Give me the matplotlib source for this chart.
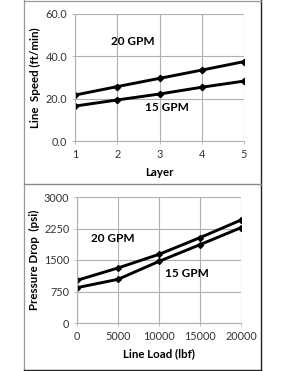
import matplotlib.pyplot as plt
from matplotlib.lines import Line2D

plt.rcParams['font.family'] = ['Lato', 'DejaVu Sans']

# Верхний график: скорость линии по слоям
layers = [1, 2, 3, 4, 5]
speed_20 = [21.7, 25.7, 29.6, 33.5, 37.5]
speed_15 = [16.5, 19.4, 22.2, 25.4, 28.3]

# Нижний график: перепад давления от нагрузки
loads = [0, 5000, 10000, 15000, 20000]
pressure_20 = [1016, 1310, 1635, 2032, 2452]
pressure_15 = [841, 1040, 1468, 1865, 2270]

W, H = 285, 371
fig = plt.figure(figsize=(W / 100, H / 100), dpi=100)

grid_c = '#b0b0b0'
tick_c = '#333333'


def style_axes(ax):
    for side in ['top', 'right']:
        ax.spines[side].set_visible(False)
    for side in ['left', 'bottom']:
        ax.spines[side].set_color(grid_c)
        ax.spines[side].set_linewidth(0.8)
    ax.grid(True, color=grid_c, linewidth=0.8)
    ax.set_axisbelow(True)
    ax.tick_params(axis='both', labelsize=7.8, colors=tick_c, length=2.5,
                   width=0.6, pad=3)
    ax.tick_params(axis='both', color=grid_c)
    ax.set_facecolor('none')


# верхний
ax1 = fig.add_axes([75 / W, 1 - 141 / H, 169 / W, 127 / H])
ax1.plot(layers, speed_20, color='black', lw=2.1, marker='D', ms=3.2)
ax1.plot(layers, speed_15, color='black', lw=2.1, marker='D', ms=3.2)
ax1.set_xlim(1, 5)
ax1.set_ylim(0, 60)
ax1.set_xticks(layers)
ax1.set_yticks([0, 20, 40, 60])
ax1.set_yticklabels(['0.0', '20.0', '40.0', '60.0'])
style_axes(ax1)
ax1.set_xlabel('Layer', fontsize=8.3, fontweight='bold', labelpad=5)
ax1.set_ylabel('Line  Speed (ft/min)', fontsize=8.3, fontweight='bold', labelpad=3)
ax1.text(2.37, 46.8, '20 GPM', fontsize=8.5, fontweight='bold', ha='center', va='center')
ax1.text(3.18, 15.6, '15 GPM', fontsize=8.5, fontweight='bold', ha='center', va='center')

# нижний
ax2 = fig.add_axes([77 / W, 1 - 323 / H, 164 / W, 126 / H])
ax2.plot(loads, pressure_20, color='black', lw=2.1, marker='D', ms=3.0)
ax2.plot(loads, pressure_15, color='black', lw=2.1, marker='D', ms=3.0)
ax2.set_xlim(0, 20000)
ax2.set_ylim(0, 3000)
ax2.set_xticks(loads)
ax2.set_yticks([0, 750, 1500, 2250, 3000])
style_axes(ax2)
ax2.set_xlabel('Line Load (lbf)', fontsize=8.3, fontweight='bold', labelpad=5)
ax2.set_ylabel('Pressure Drop  (psi)', fontsize=8.3, fontweight='bold', labelpad=3)
ax2.text(4390, 2000, '20 GPM', fontsize=8.5, fontweight='bold', ha='center', va='center')
ax2.text(13415, 1167, '15 GPM', fontsize=8.5, fontweight='bold', ha='center', va='center')

# рамки вокруг графиков
def fline(x0, y0, x1, y1, c, lw):
    fig.add_artist(Line2D([x0 / W, x1 / W], [1 - y0 / H, 1 - y1 / H],
                          color=c, lw=lw, transform=fig.transFigure))

fline(24, 0, 24, H, '#999999', 0.9)
fline(261, 0, 261, H, '#222222', 1.0)
fline(24, 0.5, 261, 0.5, '#999999', 0.9)
fline(24, 184, 261, 184, '#888888', 1.0)
fline(24, 370, 261, 370, '#222222', 1.0)

fig.savefig('out.png', dpi=100)
